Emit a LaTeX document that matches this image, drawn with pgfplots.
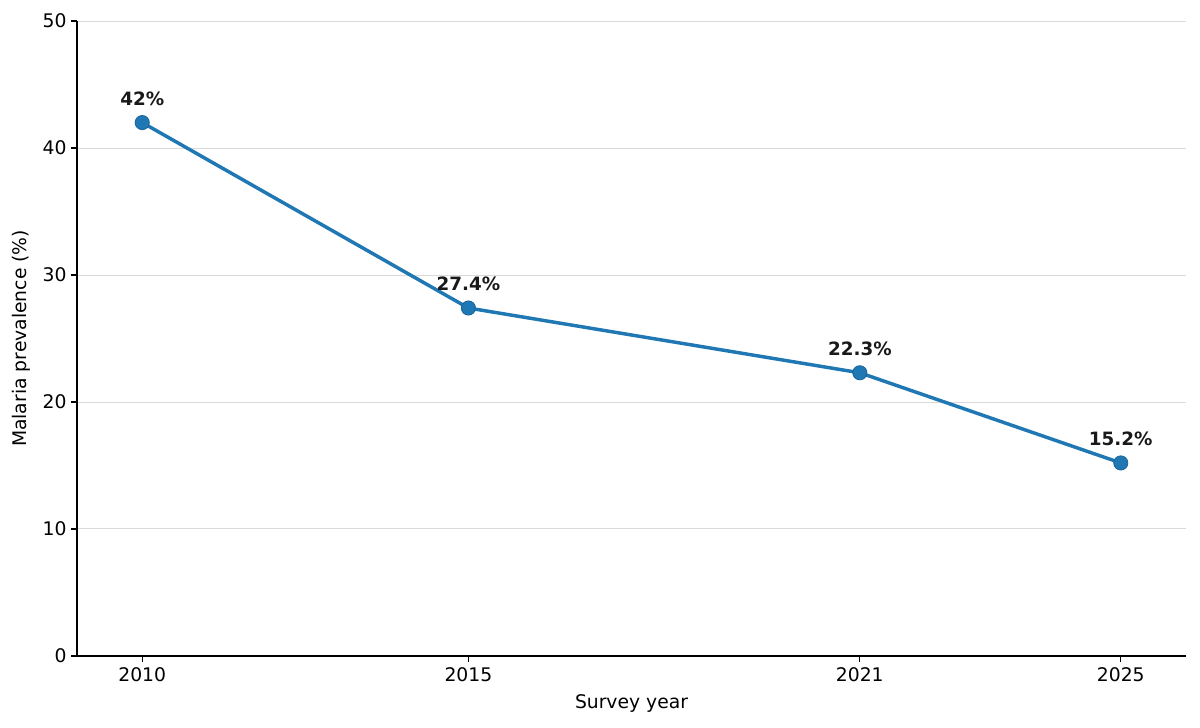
\documentclass[border=0pt]{standalone}
\usepackage{pgfplots}
\pgfplotsset{compat=1.18}
\usetikzlibrary{calc}
\usepackage{fontspec}
\setmainfont{DejaVu Sans}
\definecolor{mblue}{HTML}{1F77B4}
\definecolor{gridc}{HTML}{DADADA}
\begin{document}
\begin{tikzpicture}
\begin{axis}[
  scale only axis,
  width=798.5pt, height=457.2pt,
  xmin=2009, xmax=2026, ymin=0, ymax=50,
  axis x line*=bottom, axis y line*=left,
  axis line style={line width=0.9pt},
  xtick={2010,2015,2021,2025},
  xticklabels={2010,2015,2021,2025},
  ytick={0,10,20,30,40,50},
  tick align=outside,
  major tick length=4pt,
  tick style={line width=0.9pt, black},
  ymajorgrids,
  grid style={gridc, line width=0.7pt},
  /pgf/number format/assume math mode=true,
  ticklabel style={font=\fontsize{13.5pt}{16pt}\selectfont},
  label style={font=\fontsize{13.5pt}{16pt}\selectfont},
  xticklabel style={yshift=-1pt},
  xlabel style={yshift=-2pt},
  ylabel style={yshift=2pt},
  xlabel={Survey year},
  ylabel={Malaria prevalence (\%)},
  clip=false,
  nodes near coords,
  point meta=explicit symbolic,
  every node near coord/.append style={font=\bfseries\fontsize{13.2pt}{15pt}\selectfont, color=black!90, yshift=8.5pt},
]
\addplot[color=mblue, line width=2.5pt, mark=*, mark size=5.1pt, mark options={fill=mblue, draw=mblue!85!black, line width=0.6pt}]
  table[meta=lab] {
x y lab
2010 42.0 42\%
2015 27.4 27.4\%
2021 22.3 22.3\%
2025 15.2 15.2\%
};
\coordinate (bl) at (rel axis cs:0,0);
\coordinate (tr) at (rel axis cs:1,1);
\end{axis}
\pgfresetboundingbox
\path[use as bounding box] ($(bl)+(-55.44pt,-51.84pt)$) rectangle ($(tr)+(10.08pt,15.12pt)$);
\end{tikzpicture}
\end{document}
